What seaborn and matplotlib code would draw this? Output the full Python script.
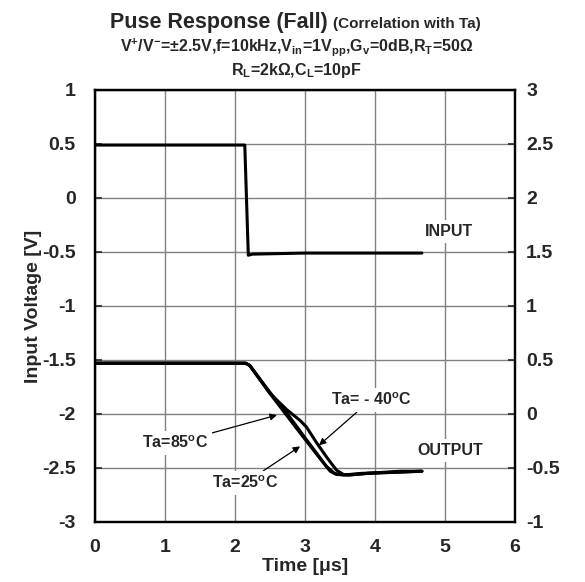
import numpy as np
import pandas as pd
import seaborn as sns
import matplotlib.pyplot as plt

# Input waveform (left axis, V)
t_in = [0, 2.14, 2.19, 2.25, 3.0, 4.0, 4.67]
v_in = [0.49, 0.49, -0.53, -0.52, -0.51, -0.51, -0.51]

# Output waveforms (right axis, V)
t_m40 = [0, 2.15, 2.21, 2.5, 2.74, 2.93, 3.02, 3.17, 3.31, 3.45, 3.55, 3.64, 3.88, 4.36, 4.67]
v_m40 = [0.47, 0.47, 0.45, 0.19, 0.04, -0.06, -0.12, -0.27, -0.40, -0.52, -0.56, -0.565, -0.55, -0.53, -0.53]
t_25 = [0, 2.15, 2.21, 2.5, 2.9, 3.2, 3.36, 3.45, 3.6, 3.9, 4.67]
v_25 = [0.47, 0.47, 0.45, 0.19, -0.15, -0.40, -0.53, -0.56, -0.565, -0.55, -0.53]
t_85 = [0, 2.15, 2.21, 2.5, 2.75, 3.0, 3.3, 3.42, 3.55, 3.8, 4.67]
v_85 = [0.47, 0.47, 0.45, 0.20, 0.0, -0.22, -0.48, -0.55, -0.565, -0.55, -0.53]

left_ticks = [1, 0.5, 0, -0.5, -1, -1.5, -2, -2.5, -3]
right_ticks = [3, 2.5, 2, 1.5, 1, 0.5, 0, -0.5, -1]
x_ticks = [0, 1, 2, 3, 4, 5, 6]

sns.set_style('white')
plt.rcParams['font.family'] = ['Liberation Sans', 'DejaVu Sans']
plt.rcParams['font.weight'] = 'bold'
plt.rcParams['mathtext.fontset'] = 'custom'
plt.rcParams['mathtext.rm'] = 'Liberation Sans:bold'
plt.rcParams['mathtext.it'] = 'Liberation Sans:bold'
plt.rcParams['mathtext.bf'] = 'Liberation Sans:bold'

fig = plt.figure(figsize=(5.85, 5.82), dpi=100)
ax = fig.add_axes([0.1624, 0.1031, 0.7179, 0.7423])
ax2 = ax.twinx()

# input on left axis
sns.lineplot(x=t_in, y=v_in, ax=ax, color='black', lw=2.2, sort=False)
# outputs on right axis
for t, v in [(t_m40, v_m40), (t_25, v_25), (t_85, v_85)]:
    sns.lineplot(x=t, y=v, ax=ax2, color='black', lw=2.2, sort=False)

ax.set_xlim(0, 6)
ax.set_ylim(-3, 1)
ax2.set_ylim(-1, 3)
ax.set_xticks(x_ticks)
ax.set_xticklabels([str(x) for x in x_ticks])
ax.set_yticks(left_ticks)
ax.set_yticklabels([f'{v:g}' for v in left_ticks])
ax2.set_yticks(right_ticks)
ax2.set_yticklabels([f'{v:g}' for v in right_ticks])

ax.grid(True, color='#808080', lw=1.0)
ax.set_axisbelow(True)
for a in (ax, ax2):
    for s in a.spines.values():
        s.set_linewidth(1.6)
        s.set_color('black')
    a.tick_params(direction='in', length=5, width=1.2, labelsize=14, pad=8)
ax.tick_params(axis='y', pad=14)
ax.tick_params(axis='x', pad=12)

ax.set_xlabel('Time [μs]', fontsize=14, fontweight='bold', labelpad=2)
ax.set_ylabel('Input Voltage [V]', fontsize=14, fontweight='bold', labelpad=0)

box = dict(boxstyle='square,pad=0.25', fc='white', ec='none')
ax.text(5.06, -0.31, 'INPUT', ha='center', va='center', fontsize=11.5, bbox=box)
ax.text(5.07, -2.34, 'OUTPUT', ha='center', va='center', fontsize=11.5, bbox=box)

arrow = dict(arrowstyle='-|>', color='black', lw=0.9, mutation_scale=10, shrinkA=0, shrinkB=0)
ax.annotate(r'Ta=85$^\mathrm{o}$C', xy=(2.6, -2.01), xytext=(1.14, -2.27),
            ha='center', va='center', fontsize=11.5, bbox=box, arrowprops=arrow)
ax.annotate(r'Ta=25$^\mathrm{o}$C', xy=(2.93, -2.30), xytext=(2.14, -2.64),
            ha='center', va='center', fontsize=11.5, bbox=box, arrowprops=arrow)
ax.annotate(r'Ta= - 40$^\mathrm{o}$C', xy=(3.2, -2.29), xytext=(3.94, -1.87),
            ha='center', va='center', fontsize=11.5, bbox=box, arrowprops=arrow)

fig.text(0.57, 0.961, 'Puse Response (Fall) ', ha='right', va='center', fontsize=15.5)
fig.text(0.57, 0.959, '(Correlation with Ta)', ha='left', va='center', fontsize=11)
fig.text(0.507, 0.92,
         r'V$^{+}$/V$^{-}$=±2.5V,f=10kHz,V$_{\mathrm{in}}$=1V$_{\mathrm{pp}}$,'
         r'G$_{\mathrm{v}}$=0dB,R$_{\mathrm{T}}$=50Ω',
         ha='center', va='center', fontsize=11.5)
fig.text(0.507, 0.879, r'R$_{\mathrm{L}}$=2kΩ,C$_{\mathrm{L}}$=10pF',
         ha='center', va='center', fontsize=11.5)

fig.savefig('out.png', dpi=100)
